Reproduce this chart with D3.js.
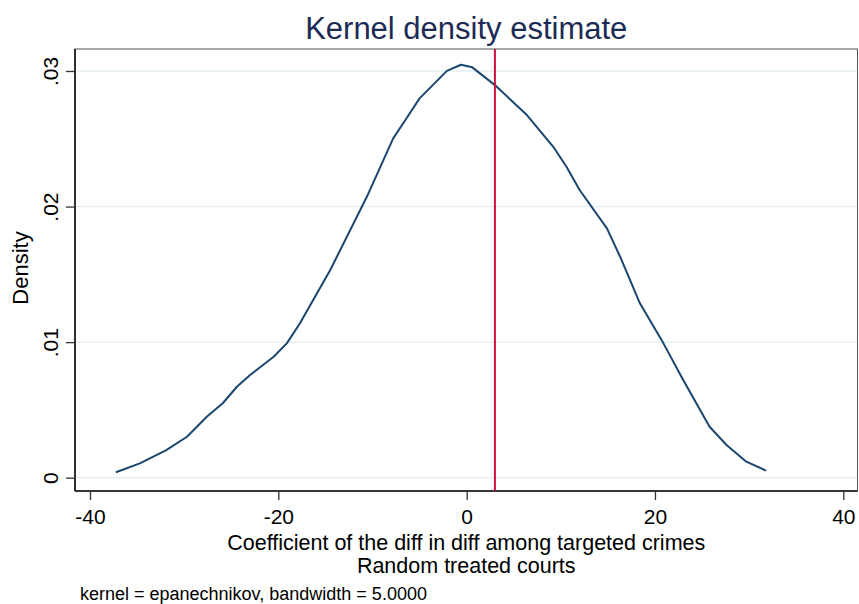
<!DOCTYPE html>
<html>
<head>
<meta charset="utf-8">
<script src="https://cdn.jsdelivr.net/npm/d3@7"></script>
<style>
  html, body { margin: 0; padding: 0; background: #fff; }
  svg { display: block; font-family: "Liberation Sans", Arial, Helvetica, sans-serif; }
</style>
</head>
<body>
<svg id="chart" width="859" height="604"></svg>
<script>
// Kernel density of the placebo coefficients (grid points of the estimate)
const gridX = [-37.25, -34.7, -31.9, -29.7, -27.6, -25.9, -24.4, -23.0, -20.5, -19.1,
               -17.7, -16.3, -14.5, -10.6, -7.8, -6.4, -5.0, -2.1, -0.6, 0.6,
               3.0, 6.4, 9.2, 10.6, 12.0, 14.9, 16.3, 18.4, 20.9, 23.0,
               25.8, 27.6, 29.7, 31.8];
const density = [0.0004, 0.00106, 0.00204, 0.00302, 0.0045, 0.00549, 0.00671, 0.00757, 0.00892, 0.00991,
                 0.01139, 0.0131, 0.0153, 0.02072, 0.02503, 0.0265, 0.02798, 0.03001, 0.03046, 0.03027,
                 0.02896, 0.02675, 0.02441, 0.02294, 0.02122, 0.01839, 0.0163, 0.01286, 0.00991, 0.0072,
                 0.00376, 0.00241, 0.00118, 0.00052];
// Actual estimate marked by the vertical line
const actualCoef = [3.0];

const xTicks = [-40, -20, 0, 20, 40];
const yTicks = [0, 0.01, 0.02, 0.03];
const yTickLabels = ["0", ".01", ".02", ".03"];

const titleText = "Kernel density estimate";
const xTitleLines = ["Coefficient of the diff in diff among targeted crimes", "Random treated courts"];
const yTitle = "Density";
const noteText = "kernel = epanechnikov, bandwidth = 5.0000";

const svg = d3.select("#chart");
const box = { left: 75, right: 857.5, top: 49, bottom: 491 };

const x = d3.scaleLinear().domain([-40, 40]).range([90, 843.3]);
const y = d3.scaleLinear().domain([0, 0.03]).range([477.7, 71]);

// gridlines
svg.append("g").selectAll("line").data(yTicks).join("line")
  .attr("x1", box.left).attr("x2", box.right)
  .attr("y1", d => y(d)).attr("y2", d => y(d))
  .attr("stroke", "#e6eff1").attr("stroke-width", 1.5);

// plot region border
svg.append("rect")
  .attr("x", box.left).attr("y", box.top)
  .attr("width", box.right - box.left).attr("height", box.bottom - box.top)
  .attr("fill", "none").attr("stroke", "#555").attr("stroke-width", 1);

// x axis
const xAxis = svg.append("g")
  .attr("transform", `translate(0,${box.bottom})`)
  .call(d3.axisBottom(x).tickValues(xTicks).tickSize(9).tickPadding(5).tickFormat(d3.format("d")));
xAxis.select(".domain").attr("d", `M${box.left},0H${box.right}`).attr("stroke", "#111").attr("stroke-width", 1.6);
xAxis.selectAll(".tick line").attr("stroke", "#333").attr("stroke-width", 1.3);
xAxis.selectAll(".tick text").attr("font-size", 21).attr("fill", "#000")
  .attr("dy", null).attr("y", 33);
xAxis.selectAll(".tick text").text(d => d < 0 ? "-" + Math.abs(d) : d);

// y axis
const yAxis = svg.append("g")
  .attr("transform", `translate(${box.left},0)`)
  .call(d3.axisLeft(y).tickValues(yTicks).tickSize(9).tickFormat((d, i) => yTickLabels[i]));
yAxis.select(".domain").attr("d", `M0,${box.top}V${box.bottom}`).attr("stroke", "#111").attr("stroke-width", 1.6);
yAxis.selectAll(".tick line").attr("stroke", "#333").attr("stroke-width", 1.3);
yAxis.selectAll(".tick text")
  .attr("font-size", 21).attr("fill", "#000")
  .attr("x", null).attr("dy", null)
  .attr("text-anchor", "middle")
  .attr("transform", "translate(-17,0) rotate(-90)");

// density curve
const line = d3.line().x((d, i) => x(gridX[i])).y(d => y(d)).curve(d3.curveLinear);
svg.append("path")
  .datum(density)
  .attr("d", line)
  .attr("fill", "none")
  .attr("stroke", "#1a476f")
  .attr("stroke-width", 2)
  .attr("stroke-linejoin", "round");

// vertical reference line
svg.append("g").selectAll("line").data(actualCoef).join("line")
  .attr("x1", d => x(d)).attr("x2", d => x(d))
  .attr("y1", box.top).attr("y2", box.bottom)
  .attr("stroke", "#c8103e").attr("stroke-width", 2);

// titles
svg.append("text")
  .attr("x", (box.left + box.right) / 2).attr("y", 38.5)
  .attr("text-anchor", "middle").attr("font-size", 31)
  .attr("fill", "#1c2b55").text(titleText);

svg.append("g").selectAll("text").data(xTitleLines).join("text")
  .attr("x", (box.left + box.right) / 2)
  .attr("y", (d, i) => 549.5 + i * 23.5)
  .attr("text-anchor", "middle").attr("font-size", 21.5).attr("fill", "#000")
  .text(d => d);

svg.append("text")
  .attr("transform", `translate(28,${(box.top + box.bottom) / 2 - 2}) rotate(-90)`)
  .attr("text-anchor", "middle").attr("font-size", 22).attr("fill", "#000")
  .text(yTitle);

svg.append("text")
  .attr("x", 80).attr("y", 600)
  .attr("font-size", 18).attr("fill", "#000")
  .text(noteText);
</script>
</body>
</html>
